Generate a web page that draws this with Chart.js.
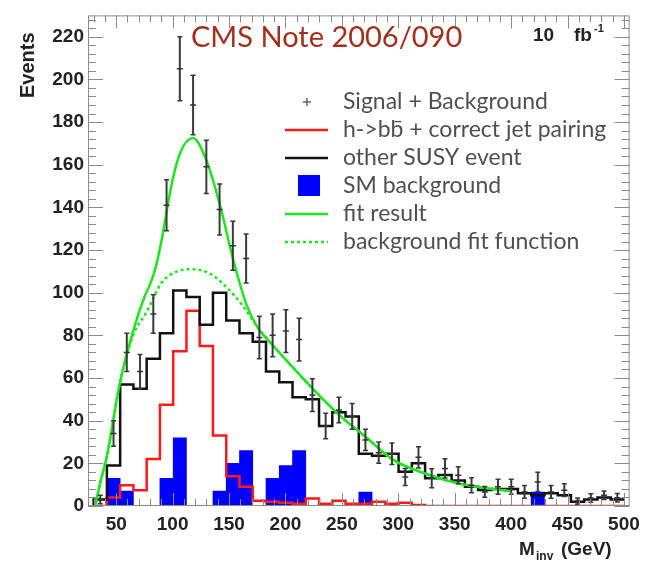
<!DOCTYPE html>
<html>
<head>
<meta charset="utf-8">
<script src="https://cdn.jsdelivr.net/npm/chart.js@4.4.1/dist/chart.umd.min.js"></script>
<style>
  html, body { margin: 0; padding: 0; background: #fff; }
  #wrap { width: 647px; height: 565px; position: relative; }
</style>
</head>
<body>
<div id="wrap"><canvas id="minv"></canvas></div>
<script>
// M_inv histograms, 40 bins of 11.75 GeV from 30 to 500
var binEdges = [30, 41.75, 53.5, 65.25, 77, 88.75, 100.5, 112.25, 124, 135.75,
    147.5, 159.25, 171, 182.75, 194.5, 206.25, 218, 229.75, 241.5, 253.25,
    265, 276.75, 288.5, 300.25, 312, 323.75, 335.5, 347.25, 359, 370.75,
    382.5, 394.25, 406, 417.75, 429.5, 441.25, 453, 464.75, 476.5, 488.25, 500];

// other SUSY event (black)
var otherSusy = [3, 19, 57, 55, 69, 81, 101, 98, 85, 100,
    87, 81, 77, 63, 58, 51, 50, 37.5, 44, 42,
    24.5, 23.5, 24.5, 16, 20, 13, 14.5, 12, 9, 7.5,
    8, 8, 6, 5, 6, 5, 2, 3, 4, 3];

// h->bb + correct jet pairing (red)
var hbbCorrect = [0, 4, 9.7, 7.4, 22, 47.5, 72.5, 91.5, 75, 33,
    14, 9, 2.5, 2, 1.5, 1, 3.5, 1, 2.5, 1,
    1, 2, 1, 1.5, 0.5, 0, 0, 0, 0, 0,
    0, 0, 0, 0, 0, 0, 0, 0, 0, 0];

// SM background (blue)
var smBackground = [0, 13, 7, 0, 0, 13, 32, 0, 0, 7,
    20, 26, 0, 13, 19, 26, 0, 0, 0, 0,
    6.5, 0, 0, 0, 0, 0, 0, 0, 0, 0,
    0, 0, 0, 6.5, 0, 0, 0, 0, 0, 0];

// Signal + Background points with errors
var sigBkg = [3, 34, 72, 63, 90, 141, 205, 188, 159, 139,
    122, 116, 79, 80, 82, 78, 52, 37.5, 45, 42,
    31, 25, 24.5, 13.6, 22.8, 13, 17.6, 14.4, 9.7, 6.6,
    9, 9, 6.6, 11.3, 6.6, 7.4, 2.3, 3.7, 5, 3.9];
var sigBkgErr = [2, 6, 9, 8, 9, 12, 15, 14, 12.5, 12,
    11.5, 11.5, 10, 10, 10, 10, 7.7, 6, 6, 6,
    5, 5, 5, 4, 5, 4.5, 4.5, 4, 3.5, 2.5,
    3.5, 3.5, 3, 4.5, 3, 3, 1.5, 2, 2, 2];

// fit result and background fit function (green)
var fitX = [31.5, 35, 42, 53, 65, 75, 80, 85, 90, 95, 100, 107, 118, 130, 142, 153, 165, 175, 186, 210, 226, 249, 272, 296, 325, 354, 383, 400];
var fitY = [0, 9, 24, 57, 82, 98, 104, 112, 124, 139, 153, 166, 172.5, 162, 141, 117, 95, 84, 77, 63, 54, 42, 32, 21.5, 15, 10.5, 8, 7];
var bkgFitX = [31.5, 35, 42, 53, 65, 77, 90, 104, 117, 133, 147, 162, 175, 186, 210, 226, 249, 272, 296, 325, 354, 383, 400];
var bkgFitY = [0, 9, 24, 57, 80, 91, 104.5, 110, 111, 109, 103, 94, 84, 77, 63, 54, 42, 32, 21.5, 15, 10.5, 8, 7];

var xTickLabels = [50, 100, 150, 200, 250, 300, 350, 400, 450, 500];
var yTickLabels = [0, 20, 40, 60, 80, 100, 120, 140, 160, 180, 200, 220];

var legendItems = ['Signal + Background', 'h->bb\u0304 + correct jet pairing', 'other SUSY event',
    'SM background', 'fit result', 'background fit function'];

Chart.defaults.font.family = "'Liberation Sans', Arial, sans-serif";

var binCenters = binEdges.slice(0, -1).map(function(e, i) { return (e + binEdges[i + 1]) / 2; });

function stepData(vals) {
    var pts = [{x: binEdges[0], y: 0}];
    for (var i = 0; i < vals.length; i++) pts.push({x: binEdges[i], y: vals[i]});
    pts.push({x: binEdges[vals.length], y: vals[vals.length - 1]});
    return pts;
}
function xy(xs, ys) {
    return xs.map(function(x, i) { return {x: x, y: ys[i]}; });
}
// vertical error segments, broken by null points
function errorData() {
    var pts = [];
    binCenters.forEach(function(c, i) {
        pts.push({x: c, y: sigBkg[i] - sigBkgErr[i]});
        pts.push({x: c, y: sigBkg[i] + sigBkgErr[i]});
        pts.push({x: c, y: null});
    });
    return pts;
}

var green = '#1ee61e';

// inward ticks, frame, legend and labels
var decor = {
    id: 'decor',
    afterDraw: function(chart) {
        var ctx = chart.ctx, a = chart.chartArea;
        var xs = chart.scales.x, ys = chart.scales.y;
        ctx.save();
        ctx.strokeStyle = '#8a8a8a';
        ctx.lineWidth = 1;
        ctx.strokeRect(a.left + 0.5, a.top + 0.5, a.right - a.left - 1, a.bottom - a.top - 1);
        ctx.beginPath();
        xs.ticks.forEach(function(t) {
            if (t.value % 10 !== 0) return;
            var px = Math.round(xs.getPixelForValue(t.value)) + 0.5;
            var len = t.value % 50 === 0 ? 13 : 7;
            ctx.moveTo(px, a.bottom); ctx.lineTo(px, a.bottom - len);
            ctx.moveTo(px, a.top); ctx.lineTo(px, a.top + len);
        });
        ys.ticks.forEach(function(t) {
            if (t.value % 4 !== 0) return;
            var py = Math.round(ys.getPixelForValue(t.value)) + 0.5;
            var len = t.value % 20 === 0 ? 15 : 8;
            ctx.moveTo(a.left, py); ctx.lineTo(a.left + len, py);
            ctx.moveTo(a.right, py); ctx.lineTo(a.right - len, py);
        });
        ctx.stroke();

        // axis titles
        ctx.fillStyle = '#222';
        ctx.font = 'bold 20px "Liberation Sans"';
        ctx.textBaseline = 'alphabetic';
        ctx.save();
        ctx.translate(34, 98);
        ctx.rotate(-Math.PI / 2);
        ctx.textAlign = 'left';
        ctx.fillText('Events', 0, 0);
        ctx.restore();

        ctx.textAlign = 'left';
        ctx.font = 'bold 19px "Liberation Sans"';
        ctx.fillText('M', 519, 555);
        ctx.font = 'bold 12px "Liberation Sans"';
        ctx.fillText('inv', 536, 560);
        ctx.font = 'bold 19px "Liberation Sans"';
        ctx.fillText('(GeV)', 561, 555);

        // note and luminosity
        ctx.fillStyle = '#a3301a';
        ctx.font = '29px Lato';
        ctx.fillText('CMS Note 2006/090', 191, 47);
        ctx.fillStyle = '#222';
        ctx.font = 'bold 19px "Liberation Sans"';
        ctx.fillText('10', 533, 41);
        ctx.fillText('fb', 574, 41);
        ctx.font = 'bold 11px "Liberation Sans"';
        ctx.fillText('-1', 594, 32);

        // legend
        var rows = [102, 130, 158, 186, 214, 242];
        ctx.strokeStyle = '#666';
        ctx.lineWidth = 1.5;
        ctx.beginPath();
        ctx.moveTo(303, rows[0]); ctx.lineTo(311, rows[0]);
        ctx.moveTo(307, rows[0] - 4); ctx.lineTo(307, rows[0] + 4);
        ctx.stroke();
        ctx.lineWidth = 2.5;
        [[1, '#ff1a1a', []], [2, '#111', []], [4, green, []], [5, green, [3, 3]]].forEach(function(r) {
            ctx.strokeStyle = r[1];
            ctx.setLineDash(r[2]);
            ctx.beginPath();
            ctx.moveTo(285, rows[r[0]]); ctx.lineTo(328, rows[r[0]]);
            ctx.stroke();
        });
        ctx.setLineDash([]);
        ctx.fillStyle = '#0000ff';
        ctx.fillRect(298, rows[3] - 11, 22, 21);
        ctx.fillStyle = '#505050';
        ctx.font = '23px Lato';
        ctx.textBaseline = 'middle';
        legendItems.forEach(function(s, i) { ctx.fillText(s, 343, rows[i]); });
        ctx.restore();
    }
};

var datasets = [
    {
        type: 'scatter',
        label: 'Signal + Background',
        data: xy(binCenters, sigBkg),
        pointStyle: 'line',
        pointRadius: 3,
        borderColor: '#333',
        borderWidth: 1.5,
        order: 0
    },
    {
        type: 'line',
        label: 'errors',
        data: errorData(),
        borderColor: '#3a3a3a',
        borderWidth: 2,
        spanGaps: false,
        pointStyle: 'line',
        pointRadius: 2.5,
        pointBorderWidth: 1.5,
        order: 1
    },
    {
        type: 'line',
        label: 'fit result',
        data: xy(fitX, fitY),
        borderColor: green,
        borderWidth: 2.5,
        pointRadius: 0,
        cubicInterpolationMode: 'monotone',
        order: 2
    },
    {
        type: 'line',
        label: 'background fit function',
        data: xy(bkgFitX, bkgFitY),
        borderColor: green,
        borderWidth: 2.5,
        borderDash: [3, 3],
        pointRadius: 0,
        cubicInterpolationMode: 'monotone',
        order: 3
    },
    {
        type: 'line',
        label: 'other SUSY event',
        data: stepData(otherSusy),
        borderColor: '#111',
        borderWidth: 2.5,
        pointRadius: 0,
        stepped: true,
        order: 4
    },
    {
        type: 'line',
        label: 'h->bb + correct jet pairing',
        data: stepData(hbbCorrect),
        borderColor: '#ff1a1a',
        borderWidth: 2.5,
        pointRadius: 0,
        stepped: true,
        order: 5
    },
    {
        type: 'bar',
        label: 'SM background',
        data: xy(binCenters, smBackground),
        backgroundColor: '#0000ff',
        barThickness: 'flex',
        barPercentage: 1,
        categoryPercentage: 1,
        order: 6
    }
];

var config = {
    type: 'scatter',
    data: {datasets: datasets},
    options: {
        responsive: true,
        maintainAspectRatio: false,
        animation: false,
        layout: {padding: {left: 0, right: 17, top: 9, bottom: 0}},
        plugins: {legend: {display: false}, tooltip: {enabled: false}},
        scales: {
            x: {
                type: 'linear',
                min: 30,
                max: 500,
                grid: {display: false, drawTicks: false},
                border: {display: false},
                afterFit: function(scale) { scale.height = 59; },
                ticks: {
                    stepSize: 10,
                    includeBounds: false,
                    autoSkip: false,
                    maxRotation: 0,
                    padding: 7,
                    color: '#222',
                    font: {size: 19, weight: 'bold'},
                    callback: function(v) { return xTickLabels.indexOf(v) >= 0 ? v : ''; }
                }
            },
            y: {
                min: 0,
                max: 230,
                grid: {display: false, drawTicks: false},
                border: {display: false},
                afterFit: function(scale) { scale.width = 88; },
                ticks: {
                    stepSize: 4,
                    includeBounds: false,
                    autoSkip: false,
                    padding: 4,
                    color: '#222',
                    font: {size: 19, weight: 'bold'},
                    callback: function(v) { return yTickLabels.indexOf(v) >= 0 ? v : ''; }
                }
            }
        }
    },
    plugins: [decor]
};

var chart = new Chart(document.getElementById('minv'), config);
</script>
</body>
</html>
